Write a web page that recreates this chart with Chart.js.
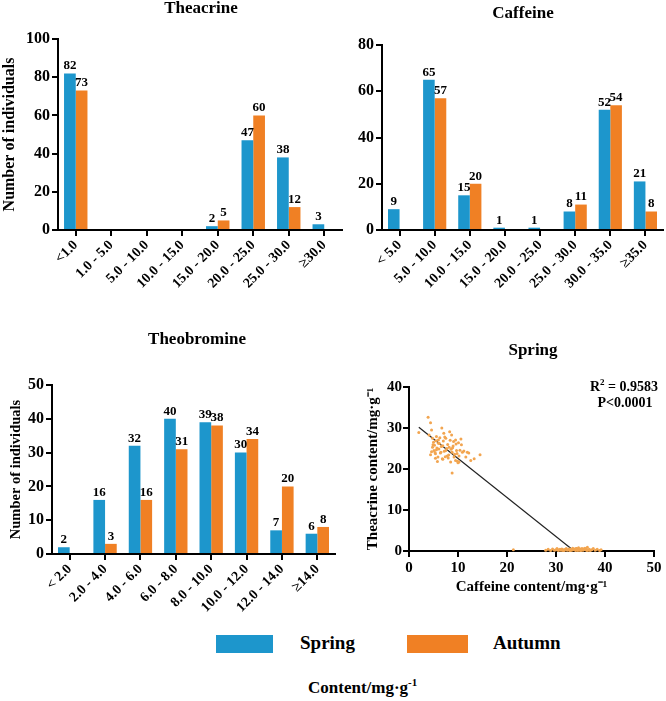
<!DOCTYPE html>
<html><head><meta charset="utf-8">
<script src="https://cdn.jsdelivr.net/npm/chart.js@4.4.1/dist/chart.umd.min.js"></script>
<style>
html,body{margin:0;padding:0;background:#fff;}
body{width:666px;height:701px;position:relative;overflow:hidden;font-family:"Liberation Serif",serif;font-weight:bold;color:#000;}
canvas{position:absolute;}
.t{position:absolute;white-space:nowrap;}
</style></head><body>
<canvas id="cA" width="345" height="300" style="left:0;top:0"></canvas>
<canvas id="cB" width="336" height="300" style="left:330px;top:0"></canvas>
<canvas id="cC" width="340" height="290" style="left:0;top:330px"></canvas>
<canvas id="cD" width="326" height="280" style="left:340px;top:330px"></canvas>
<div style="position:absolute;left:216px;top:635px;width:57px;height:18px;background:#1d96cc"></div>
<div class="t" style="left:300px;top:631px;font-size:19px;line-height:24px">Spring</div>
<div style="position:absolute;left:407px;top:635px;width:61px;height:18px;background:#f08024"></div>
<div class="t" style="left:493px;top:631px;font-size:19px;line-height:24px">Autumn</div>
<div class="t" style="left:308px;top:672px;font-size:17px;line-height:20px">Content/mg·g<sup style="font-size:11px">-1</sup></div>
<script>
// ---------- data ----------
const theacrineLabels = ['<1.0','1.0 - 5.0','5.0 - 10.0','10.0 - 15.0','15.0 - 20.0','20.0 - 25.0','25.0 - 30.0','\u226530.0'];
const theacrineSpring = [82,0,0,0,2,47,38,3];
const theacrineAutumn = [73,0,0,0,5,60,12,0];

const caffeineLabels = ['< 5.0','5.0 - 10.0','10.0 - 15.0','15.0 - 20.0','20.0 - 25.0','25.0 - 30.0','30.0 - 35.0','\u226535.0'];
const caffeineSpring = [9,65,15,1,1,8,52,21];
const caffeineAutumn = [0,57,20,0,0,11,54,8];

const theobromineLabels = ['< 2.0','2.0 - 4.0','4.0 - 6.0','6.0 - 8.0','8.0 - 10.0','10.0 - 12.0','12.0 - 14.0','\u226514.0'];
const theobromineSpring = [2,16,32,40,39,30,7,6];
const theobromineAutumn = [0,3,16,31,38,34,20,8];

// Spring scatter: caffeine content (x) vs theacrine content (y)
const springCaffeine = [
 2.0,3.9,4.4,4.6,4.1,4.8,5.6,6.0,6.7,7.1,7.5,8.3,8.7,9.5,10.1,10.7,4.8,5.1,5.4,4.4,6.1,6.5,6.9,7.5,7.8,8.2,8.8,9.2,9.7,10.2,10.9,11.6,11.9,12.6,13.3,14.5,5.8,6.8,8.5,8.8,9.5,10.2,
 5.0,5.2,5.5,5.3,5.7,6.2,6.4,6.6,7.0,7.2,7.4,7.9,8.0,8.4,8.6,9.0,9.3,9.6,9.9,10.4,10.6,5.9,6.3,7.7,8.1,4.9,5.6,6.9,9.1,9.8,11.2,10.0,7.3,6.0,8.9,5.4,4.6,12.2,
 21.3,27.9,28.4,28.9,29.3,29.7,30.0,30.2,30.5,30.8,31.0,31.2,31.5,31.7,31.9,32.1,32.3,32.5,32.7,32.9,33.0,33.2,33.4,33.6,33.8,34.0,34.1,34.3,34.5,34.6,
 34.8,35.0,35.1,35.3,35.5,35.7,35.9,36.0,36.2,36.4,36.6,36.8,37.0,37.3,37.6,38.0,38.4,38.9,39.2,30.4,31.4,32.8,33.5,34.2,34.9,35.6,36.3,33.1,34.4,35.2];
const springTheacrine = [
 28.9,32.6,31.3,29.5,28.3,27.5,27.9,27.1,30.0,28.7,27.5,29.1,28.3,27.1,26.4,25.9,25.3,24.5,23.7,23.5,24.9,24.1,25.7,24.5,23.2,25.3,24.1,22.9,24.5,23.2,24.1,22.9,24.1,22.1,22.5,23.5,21.8,22.5,21.7,19.0,22.1,21.7,
 26.5,25.8,26.9,24.0,25.1,26.2,23.9,25.5,26.8,24.3,23.0,26.0,22.7,27.0,24.8,25.6,23.6,26.1,21.9,24.6,27.3,22.9,27.6,25.0,23.4,25.9,24.7,22.4,26.7,23.8,24.4,21.5,27.8,26.3,25.2,22.6,24.2,23.9,
 0.3,0.2,0.4,0.1,0.5,0.2,0.3,0.6,0.1,0.4,0.2,0.5,0.3,0.1,0.4,0.6,0.2,0.3,0.5,0.1,0.4,0.2,0.7,0.3,0.5,0.1,0.6,0.4,0.2,0.8,
 0.3,0.5,0.1,0.6,0.2,0.4,0.7,0.3,0.5,0.9,0.2,0.4,0.1,0.3,0.6,0.2,0.4,0.1,0.3,0.3,0.1,0.2,0.4,0.6,0.2,0.5,0.1,0.3,0.2,0.4];
// fitted regression line endpoints
const regressionX = [2.0, 33.7];
const regressionY = [30.2, 0.0];
const r2Text = '0.9583';
const pText = 'P<0.0001';

// ---------- style ----------
const BLUE = '#1d96cc', ORANGE = '#f08024', FONT = '"Liberation Serif", "Times New Roman", serif';

const panelTitle = {
  id:'panelTitle',
  afterDraw(chart, args, o){
    if(!o || !o.text) return;
    const ctx = chart.ctx, a = chart.chartArea;
    ctx.save();
    ctx.font = 'bold ' + o.size + 'px ' + FONT;
    ctx.fillStyle = '#000'; ctx.textAlign = 'center'; ctx.textBaseline = 'middle';
    ctx.fillText(o.text, o.x != null ? o.x : (a.left + a.right) / 2, o.y);
    ctx.restore();
  }
};
const valueLabels = {
  id:'valueLabels',
  afterDatasetsDraw(chart, args, o){
    if(!o || !o.show) return;
    const ctx = chart.ctx;
    ctx.save();
    ctx.font = 'bold 13px ' + FONT;
    ctx.fillStyle = '#000'; ctx.textAlign = 'center'; ctx.textBaseline = 'bottom';
    chart.data.datasets.forEach((ds, i) => {
      chart.getDatasetMeta(i).data.forEach((bar, j) => {
        const v = ds.data[j];
        if (!v) return;
        ctx.fillText(String(v), bar.x, bar.y - 1);
      });
    });
    ctx.restore();
  }
};
const statText = {
  id:'statText',
  afterDraw(chart, args, o){
    if(!o || !o.show) return;
    const ctx = chart.ctx, a = chart.chartArea;
    ctx.save();
    ctx.fillStyle = '#000'; ctx.textBaseline = 'alphabetic';
    ctx.font = 'bold 14px ' + FONT;
    const rest = ' = ' + r2Text;
    const wR = ctx.measureText('R').width, wRest = ctx.measureText(rest).width;
    ctx.font = 'bold 9px ' + FONT;
    const w2 = ctx.measureText('2').width;
    const cx = a.right - 30, y1 = a.top + 4;
    let x = cx - (wR + w2 + wRest) / 2;
    ctx.font = 'bold 14px ' + FONT; ctx.textAlign = 'left';
    ctx.fillText('R', x, y1); x += wR;
    ctx.font = 'bold 9px ' + FONT; ctx.fillText('2', x, y1 - 6); x += w2;
    ctx.font = 'bold 14px ' + FONT; ctx.fillText(rest, x, y1);
    ctx.textAlign = 'center';
    ctx.fillText(pText, cx + 1, y1 + 16);
    ctx.restore();
  }
};

function axisCommon(size){
  return {
    ticks:{color:'#000', font:{family:FONT, weight:'bold', size:size}},
    border:{display:true, color:'#000', width:2},
    grid:{drawOnChartArea:false, drawTicks:true, tickLength:6, color:'#000', lineWidth:2}
  };
}

function barChart(id, labels, spring, autumn, o){
  const x = axisCommon(14), y = axisCommon(16);
  x.ticks.minRotation = 45; x.ticks.maxRotation = 45; x.ticks.autoSkip = false; x.ticks.padding = 1;
  x.grid.offset = false;
  x.afterFit = s => { s.height = o.xh; };
  y.min = 0; y.max = o.yMax; y.ticks.stepSize = o.yStep; y.ticks.padding = 2;
  y.title = {display: !!o.ytitle, text: o.ytitle || '', color:'#000', font:{family:FONT, weight:'bold', size:o.ytSize || 16}, padding:{top:o.ytPad || 0, bottom:0}};
  y.afterFit = s => { s.width = o.yw; };
  return new Chart(document.getElementById(id), {
    type:'bar',
    data:{labels:labels, datasets:[
      {label:'Spring', data:spring, backgroundColor:BLUE, borderWidth:0, barPercentage:1, categoryPercentage:0.66},
      {label:'Autumn', data:autumn, backgroundColor:ORANGE, borderWidth:0, barPercentage:1, categoryPercentage:0.66}
    ]},
    options:{
      responsive:false, animation:false, devicePixelRatio:1,
      layout:{padding:{top:o.top, right:o.right, left:0, bottom:0}},
      plugins:{legend:{display:false}, tooltip:{enabled:false},
        panelTitle:{text:o.title, size:17, y:o.titleY, x:o.titleX}, valueLabels:{show:true}, statText:{show:false}},
      scales:{x:x, y:y}
    },
    plugins:[panelTitle, valueLabels, statText]
  });
}

barChart('cA', theacrineLabels, theacrineSpring, theacrineAutumn,
  {yMax:100, yStep:20, top:39, right:3, yw:58, xh:70, title:'Theacrine', titleY:9, titleX:201, ytitle:'Number of individuals', ytSize:16});
barChart('cB', caffeineLabels, caffeineSpring, caffeineAutumn,
  {yMax:80, yStep:20, top:45, right:3, yw:52, xh:70, title:'Caffeine', titleY:14, titleX:193});
barChart('cC', theobromineLabels, theobromineSpring, theobromineAutumn,
  {yMax:50, yStep:10, top:55, right:5, yw:52, xh:66, title:'Theobromine', titleY:10, titleX:197, ytitle:'Number of individuals', ytSize:14.5, ytPad:8});

// scatter
(function(){
  const x = axisCommon(15), y = axisCommon(15);
  x.type = 'linear'; x.min = 0; x.max = 50; x.ticks.stepSize = 10; x.ticks.padding = 2;
  x.title = {display:true, text:'Caffeine content/mg\u00b7g\u207b\u00b9', color:'#000', font:{family:FONT, weight:'bold', size:15}, padding:{top:0, bottom:14}};
  x.afterFit = s => { s.height = 59; };
  y.min = 0; y.max = 40; y.ticks.stepSize = 10; y.ticks.padding = 1;
  y.title = {display:true, text:'Theacrine content/mg\u00b7g\u207b\u00b9', color:'#000', font:{family:FONT, weight:'bold', size:15}, padding:{top:24, bottom:0}};
  y.afterFit = s => { s.width = 69; };
  const pts = springCaffeine.map((v, i) => ({x:v, y:springTheacrine[i]}));
  const line = regressionX.map((v, i) => ({x:v, y:regressionY[i]}));
  new Chart(document.getElementById('cD'), {
    type:'scatter',
    data:{datasets:[
      {label:'Spring', data:pts, backgroundColor:'#f2a550', borderWidth:0, pointRadius:1.5, clip:false},
      {type:'line', label:'fit', data:line, borderColor:'#222', borderWidth:1.2, pointRadius:0, fill:false, showLine:true}
    ]},
    options:{
      responsive:false, animation:false, devicePixelRatio:1,
      layout:{padding:{top:57, right:12, left:0, bottom:0}},
      plugins:{legend:{display:false}, tooltip:{enabled:false},
        panelTitle:{text:'Spring', size:17, y:21, x:193}, valueLabels:{show:false}, statText:{show:true}},
      scales:{x:x, y:y}
    },
    plugins:[panelTitle, valueLabels, statText]
  });
})();
</script>
</body></html>
